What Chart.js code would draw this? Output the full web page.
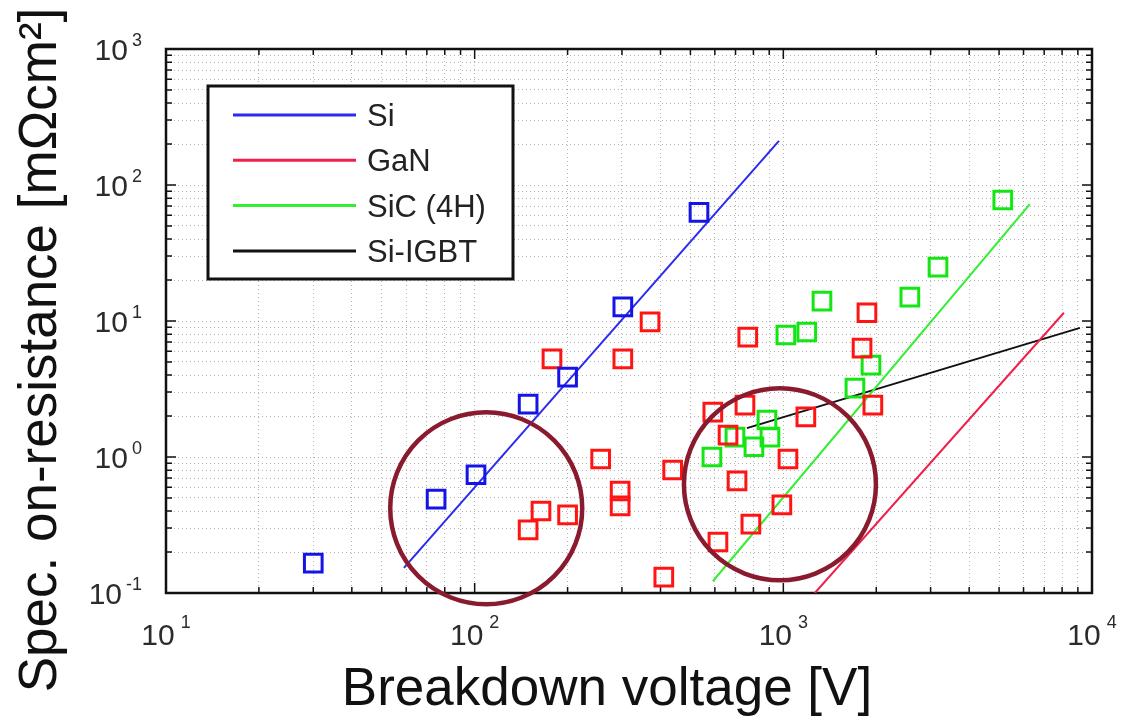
<!DOCTYPE html>
<html>
<head>
<meta charset="utf-8">
<script src="https://cdn.jsdelivr.net/npm/chart.js@4.4.1/dist/chart.umd.min.js"></script>
<style>
  html, body { margin: 0; padding: 0; background: #fff; }
  #wrap { width: 1122px; height: 721px; position: relative; }
</style>
</head>
<body>
<div id="wrap"><canvas id="chart"></canvas></div>
<script>
// measured devices (breakdown voltage [V], spec. on-resistance [mOhm cm2])
const siVoltage = [30, 75, 101, 149, 200, 302, 533];
const siRon     = [0.166, 0.49, 0.74, 2.45, 3.87, 12.7, 63];

const ganVoltage = [149, 164, 178, 200, 256, 296, 296, 302, 370, 410, 438, 591,
                    614, 662, 708, 751, 767, 785, 989, 1035, 1183, 1799, 1866, 1950];
const ganRon     = [0.291, 0.401, 5.26, 0.375, 0.967, 0.562, 0.437, 5.26, 9.84, 0.131, 0.802, 2.14,
                    0.237, 1.45, 0.667, 2.41, 7.62, 0.321, 0.444, 0.967, 1.97, 6.32, 11.5, 2.41];

const sicVoltage = [587, 697, 803, 885, 905, 1019, 1191, 1334, 1706, 1923, 2570, 3170, 5140];
const sicRon     = [1.0, 1.40, 1.19, 1.87, 1.40, 7.89, 8.3, 14.0, 3.21, 4.74, 15.0, 24.9, 77.6];

// material limit lines (end points)
const siLimitV   = [59, 968];     const siLimitR   = [0.153, 211];
const ganLimitV  = [1265, 8110];  const ganLimitR  = [0.1, 11.5];
const sicLimitV  = [591, 6290];   const sicLimitR  = [0.122, 72.4];
const igbtV      = [762, 9140];   const igbtR      = [1.63, 8.9];

// highlighted regions (circle centres)
const ringV = [109, 975];
const ringR = [0.42, 0.63];

// axes: decade exponents
const xDecades = [1, 2, 3, 4];
const yDecades = [-1, 0, 1, 2, 3];

const legendLabels = ['Si', 'GaN', 'SiC (4H)', 'Si-IGBT'];

const FONT = '"Liberation Sans", Arial, Helvetica, sans-serif';
const BLUE = '#1414e6', RED = '#ff1414', GREEN = '#14e614';

function xy(vs, rs) { return vs.map((v, i) => ({ x: v, y: rs[i] })); }

// 1..9 x 10^n between the first and last decade
function logTicks(exps) {
    const out = [];
    exps.forEach((e, i) => {
        const last = i === exps.length - 1;
        for (let m = 1; m <= (last ? 1 : 9); m++) {
            out.push({ value: Number((m * Math.pow(10, e)).toPrecision(6)), major: m === 1, exp: e });
        }
    });
    return out;
}
const xTicks = logTicks(xDecades);
const yTicks = logTicks(yDecades);

const squares = (label, data, color) => ({
    label, data, type: 'scatter', showLine: false, order: 1,
    pointStyle: 'rect', pointRadius: 12.5, pointBorderWidth: 3,
    borderColor: color, backgroundColor: 'rgba(0,0,0,0)'
});
const limit = (label, data, color) => ({
    label, data, type: 'scatter', showLine: true, order: 2,
    borderColor: color, borderWidth: 2, pointRadius: 0, fill: false
});

const axisDecor = {
    id: 'axisDecor',
    beforeDatasetsDraw(chart) {
        const { ctx, chartArea: a, scales } = chart;
        ctx.save();
        ctx.strokeStyle = '#111';
        // inward ticks on all four sides
        ctx.lineWidth = 1.5;
        xTicks.forEach(t => {
            const px = scales.x.getPixelForValue(t.value);
            const len = t.major ? 10 : 6;
            ctx.beginPath();
            ctx.moveTo(px, a.bottom); ctx.lineTo(px, a.bottom - len);
            ctx.moveTo(px, a.top); ctx.lineTo(px, a.top + len);
            ctx.stroke();
        });
        yTicks.forEach(t => {
            const py = scales.y.getPixelForValue(t.value);
            const len = t.major ? 10 : 6;
            ctx.beginPath();
            ctx.moveTo(a.left, py); ctx.lineTo(a.left + len, py);
            ctx.moveTo(a.right, py); ctx.lineTo(a.right - len, py);
            ctx.stroke();
        });
        ctx.lineWidth = 2.5;
        ctx.strokeRect(a.left, a.top, a.right - a.left, a.bottom - a.top);
        ctx.restore();
    },
    afterDatasetsDraw(chart) {
        // legend box inside the plot, top left
        const { ctx } = chart;
        const box = { x: 208, y: 86, w: 305, h: 193 };
        ctx.save();
        ctx.fillStyle = '#fff';
        ctx.fillRect(box.x, box.y, box.w, box.h);
        ctx.lineWidth = 3;
        ctx.strokeStyle = '#111';
        ctx.strokeRect(box.x, box.y, box.w, box.h);
        ctx.font = '31px ' + FONT;
        ctx.textBaseline = 'alphabetic';
        ctx.fillStyle = '#222';
        const rows = chart.data.datasets.filter(d => legendLabels.includes(d.label));
        rows.forEach((d, i) => {
            const y = box.y + 29 + i * 45.3;
            ctx.strokeStyle = d.borderColor;
            ctx.lineWidth = 3;
            ctx.beginPath();
            ctx.moveTo(box.x + 25, y); ctx.lineTo(box.x + 148, y);
            ctx.stroke();
            ctx.fillText(d.label, box.x + 159, y + 11);
        });
        ctx.restore();
    },
    afterDraw(chart) {
        const { ctx, chartArea: a, scales } = chart;
        ctx.save();
        ctx.fillStyle = '#2b2b2b';
        const big = '30px ' + FONT, small = '18px ' + FONT;
        // x tick labels 10^n
        xTicks.filter(t => t.major).forEach(t => {
            const px = scales.x.getPixelForValue(t.value);
            ctx.font = big; const w1 = ctx.measureText('10').width;
            ctx.font = small; const w2 = ctx.measureText(String(t.exp)).width;
            const x0 = px - (w1 + 6 + w2) / 2;
            ctx.textAlign = 'left';
            ctx.font = big; ctx.fillText('10', x0, a.bottom + 52);
            ctx.font = small; ctx.fillText(String(t.exp), x0 + w1 + 6, a.bottom + 35);
        });
        // y tick labels 10^n
        yTicks.filter(t => t.major).forEach(t => {
            const py = scales.y.getPixelForValue(t.value);
            ctx.font = small;
            const e = String(t.exp);
            const w2 = ctx.measureText(e).width;
            const ex = a.left - 24 - w2;
            ctx.textAlign = 'left';
            ctx.fillText(e, ex, py - 3);
            ctx.font = big;
            ctx.textAlign = 'right';
            ctx.fillText('10', ex - 4, py + 11);
        });
        // axis titles
        ctx.fillStyle = '#111';
        ctx.font = '53px ' + FONT;
        ctx.textAlign = 'center';
        ctx.fillText('Breakdown voltage [V]', 607, 705);
        ctx.translate(56, 350);
        ctx.rotate(-Math.PI / 2);
        ctx.fillText('Spec. on-resistance [m\u03A9cm\u00B2]', 0, 0);
        ctx.restore();
    }
};

const gridOpts = { color: 'rgba(0,0,0,0.3)', lineWidth: 1, drawTicks: false };

new Chart(document.getElementById('chart'), {
    type: 'scatter',
    data: {
        datasets: [
            {
                label: 'regions', data: xy(ringV, ringR), type: 'scatter', order: 0, clip: false,
                pointStyle: 'circle', pointRadius: 96, pointBorderWidth: 4.5,
                borderColor: '#8a1b2f', backgroundColor: 'rgba(0,0,0,0)'
            },
            limit('Si', xy(siLimitV, siLimitR), '#2a2af0'),
            limit('GaN', xy(ganLimitV, ganLimitR), '#f0204a'),
            limit('SiC (4H)', xy(sicLimitV, sicLimitR), '#33ee33'),
            limit('Si-IGBT', xy(igbtV, igbtR), '#111111'),
            squares('Si devices', xy(siVoltage, siRon), BLUE),
            squares('GaN devices', xy(ganVoltage, ganRon), RED),
            squares('SiC devices', xy(sicVoltage, sicRon), GREEN)
        ]
    },
    options: {
        responsive: true,
        maintainAspectRatio: false,
        animation: false,
        layout: { autoPadding: false, padding: { left: 166, right: 30, top: 49, bottom: 128 } },
        plugins: { legend: { display: false }, tooltip: { enabled: false } },
        scales: {
            x: {
                type: 'logarithmic', min: 10, max: 10000,
                afterBuildTicks: s => { s.ticks = xTicks.map(t => ({ value: t.value })); },
                ticks: { display: false },
                grid: gridOpts,
                border: { display: false, dash: [1, 3] }
            },
            y: {
                type: 'logarithmic', min: 0.1, max: 1000,
                afterBuildTicks: s => { s.ticks = yTicks.map(t => ({ value: t.value })); },
                ticks: { display: false },
                grid: gridOpts,
                border: { display: false, dash: [1, 3] }
            }
        }
    },
    plugins: [axisDecor]
});
</script>
</body>
</html>
